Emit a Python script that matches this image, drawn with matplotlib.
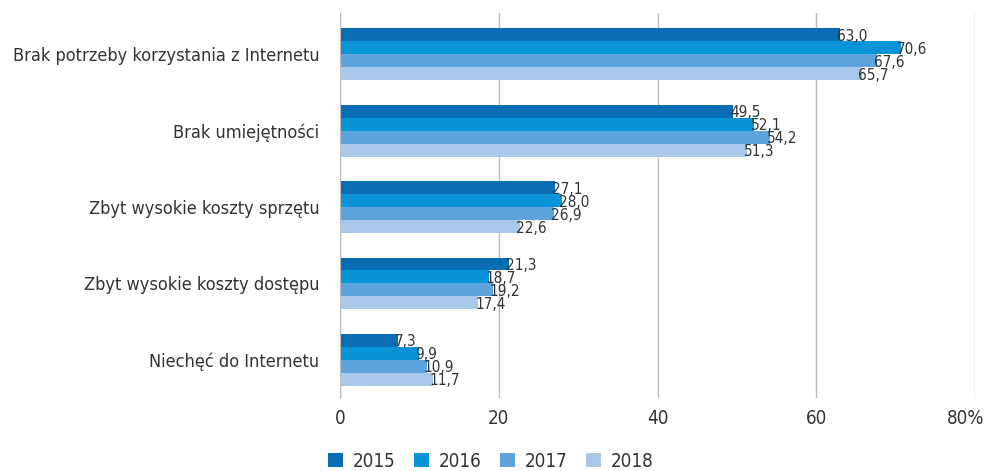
import numpy as np
import matplotlib.pyplot as plt
import matplotlib.transforms as mtransforms

categories = ['Brak potrzeby korzystania z Internetu', 'Brak umiejętności',
              'Zbyt wysokie koszty sprzętu', 'Zbyt wysokie koszty dostępu',
              'Niechęć do Internetu']
years = ['2015', '2016', '2017', '2018']
v2015 = [63.0, 49.5, 27.1, 21.3, 7.3]
v2016 = [70.6, 52.1, 28.0, 18.7, 9.9]
v2017 = [67.6, 54.2, 26.9, 19.2, 10.9]
v2018 = [65.7, 51.3, 22.6, 17.4, 11.7]
colors = ['#0a6db4', '#0994d8', '#5da3dc', '#a8c8ea']

# DejaVu Sans Condensed, closest thing to the narrow face of the original
plt.rcParams['font.family'] = ['DejaVu Sans']
plt.rcParams['font.stretch'] = 'condensed'
txt = '#333333'

fig = plt.figure(figsize=(9.86, 4.71), dpi=100)
ax = fig.add_axes([0.345, 0.155, 0.644, 0.817])

y = np.arange(len(categories))
h = 0.17
series = [v2015, v2016, v2017, v2018]
for i, vals in enumerate(series):
    pos = y + (i - 1.5) * h
    ax.barh(pos, vals, height=h, color=colors[i], label=years[i], zorder=2)
    for p, v in zip(pos, vals):
        ax.text(v - 0.4, p + 0.02, ('%.1f' % v).replace('.', ','), va='center',
                ha='left', fontsize=11, color=txt, zorder=3)

ax.set_xlim(0, 80)
ax.set_ylim(4.5, -0.54)
ax.set_xticks([0, 20, 40, 60, 80])
ax.set_xticklabels(['0', '20', '40', '60', '80%'], fontsize=13.5, color=txt)
ax.set_yticks(y)
ax.set_yticklabels(categories, fontsize=13, color=txt)
ax.tick_params(axis='y', length=0, pad=15)
ax.tick_params(axis='x', length=0, pad=8)
ax.xaxis.grid(True, color='#bbbbbb', linewidth=1, zorder=0)
for s in ['top', 'right', 'bottom']:
    ax.spines[s].set_visible(False)
ax.spines['left'].set_color('#bbbbbb')

# keep "80%" inside the figure
last = ax.get_xticklabels()[-1]
last.set_transform(last.get_transform() +
                   mtransforms.ScaledTranslation(-10 / 100, 0, fig.dpi_scale_trans))

leg = fig.legend(loc='lower left', bbox_to_anchor=(0.316, -0.035), ncol=4,
                 frameon=False, fontsize=13.5, handlelength=0.8, handleheight=0.8,
                 handletextpad=0.5, columnspacing=1.0)
for t in leg.get_texts():
    t.set_color(txt)

fig.savefig('out.png', dpi=100)
